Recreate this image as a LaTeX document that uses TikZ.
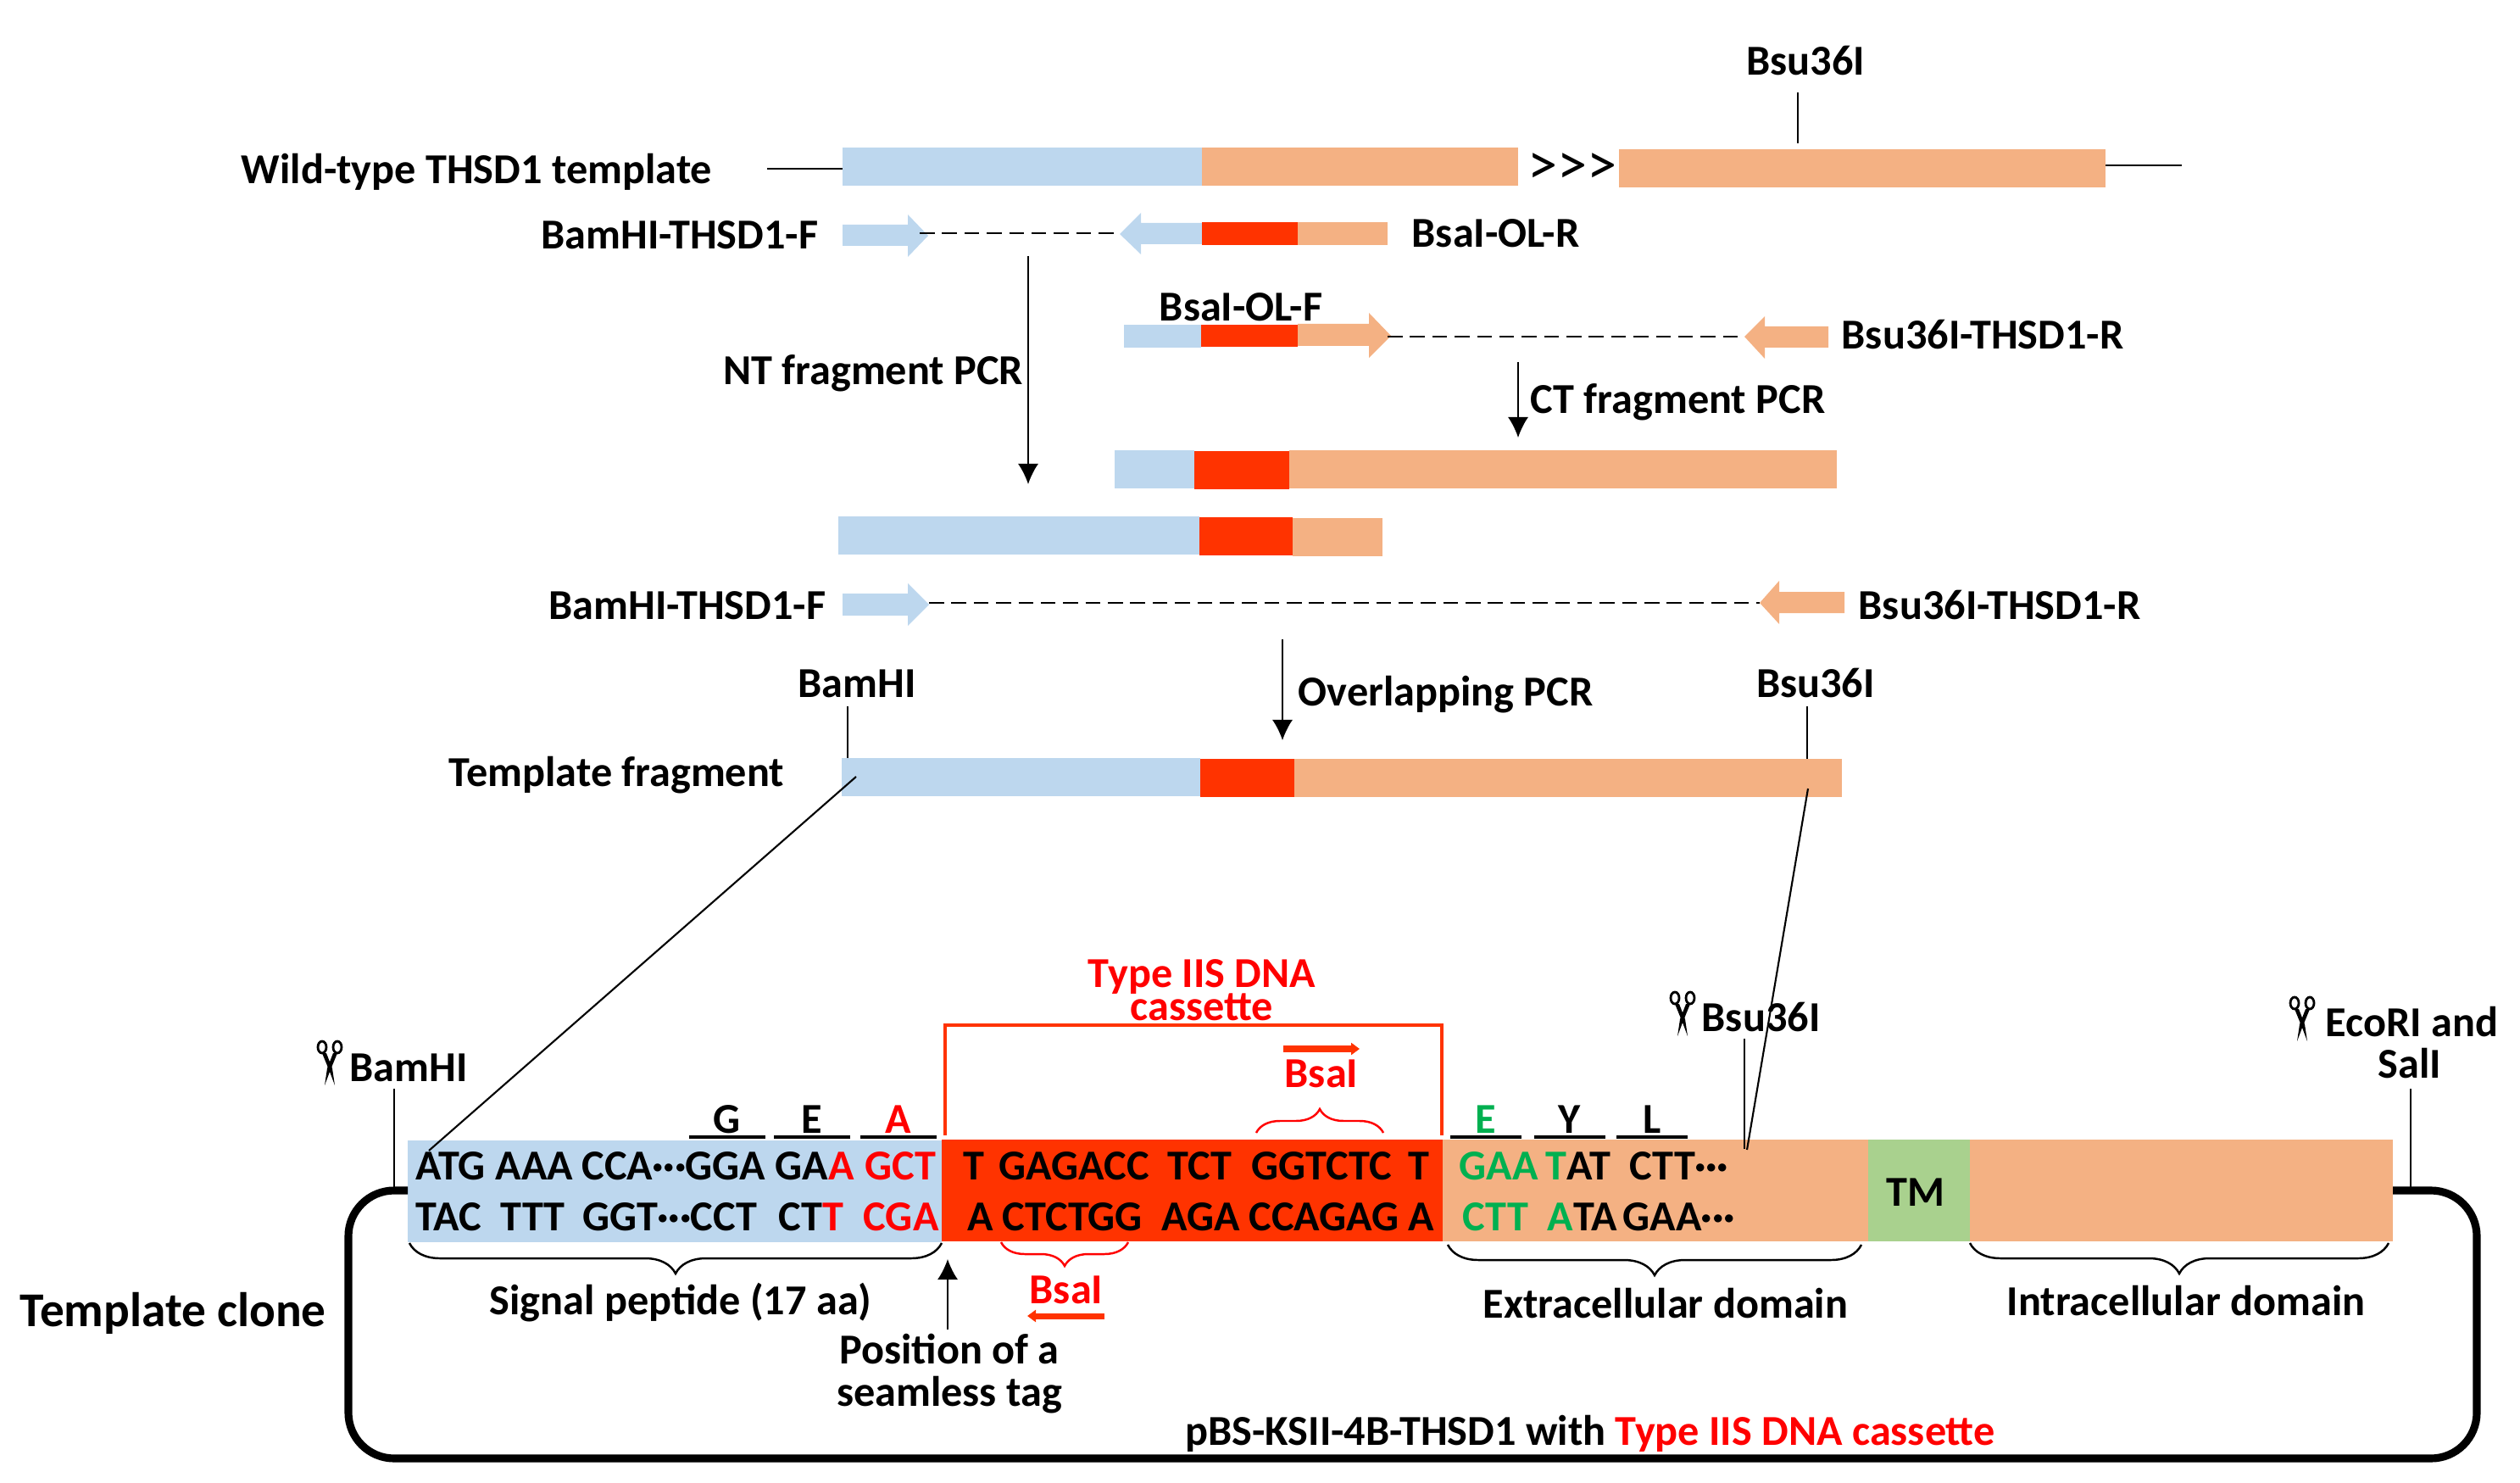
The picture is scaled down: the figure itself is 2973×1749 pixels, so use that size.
\documentclass[tikz,border=0pt]{standalone}
\usepackage{fontspec}
\setmainfont{Carlito}[BoldFont={Carlito Bold}]
\usetikzlibrary{arrows.meta, calc, decorations.pathreplacing}
\definecolor{cdsblue}{HTML}{BDD7EE}
\definecolor{cdsorange}{HTML}{F4B183}
\definecolor{cassred}{HTML}{FF3300}
\definecolor{tmgreen}{HTML}{A9D18E}
\definecolor{aagreen}{HTML}{00B050}
% a bar from its top left corner, size in reference pixels
\newcommand{\genebar}[6]{\node[barbox, fill=#1, minimum width=#4*0.01cm, minimum height=#5*0.01cm, anchor=north west] (#6) at (#2,#3) {};}
\newcommand{\middots}{\kern-0.02em ···\kern-0.02em}
\begin{document}
\begin{tikzpicture}[
    x=0.01cm, y=-0.01cm,
    barbox/.style={rectangle, draw=none, inner sep=0pt, outer sep=0pt},
    label/.style={font=\bfseries\fontsize{14.3}{16}\selectfont, inner sep=0pt, align=center},
    base/.style={font=\bfseries\fontsize{14.3}{16}\selectfont, inner sep=0pt, anchor=west},
    arrow/.style={-{Latex[length=0.24cm,width=0.24cm]}, line width=0.5pt},
    thin line/.style={line width=0.6pt},
    dash line/.style={line width=0.8pt, dash pattern=on 5pt off 2.5pt},
    sbrace/.style={decorate, decoration={brace, amplitude=0.36cm}, line width=0.7pt},
    cut/.pic={
        \draw[line width=0.8pt] (-9,-19) ellipse (5 and 7);
        \draw[line width=0.8pt] (9,-19) ellipse (5 and 7);
        \fill (-9,-12) -- (-4,-12) -- (3,6) -- (6,26) -- (0,10) -- cycle;
        \fill (9,-12) -- (4,-12) -- (-3,6) -- (-6,26) -- (0,10) -- cycle;
    }
]
\useasboundingbox (0,0) rectangle (2973,1749);

% ========== wild type template ==========
\node[label, anchor=west] (wtlabel) at (284,203) {Wild-type THSD1 template};
\genebar{cdsblue}{994}{174}{424}{45}{wtblue}
\genebar{cdsorange}{1418}{174}{373}{45}{wtorange}
\genebar{cdsorange}{1910}{176}{574}{45}{wttail}
\node[label, font=\fontsize{20}{22}\selectfont] (wtgap) at (1855,199) {>{}>{}>};
\coordinate (wtstart) at (905,199);
\coordinate (wtend) at (2574,195);
\draw[thin line] (wtstart) -- (wtblue.west |- wtstart);
\draw[thin line] (wttail.east |- wtend) -- (wtend);
\node[label] (wtsite) at (2130,72) {Bsu36I};
\coordinate (wtsitetop) at (2121,109);
\draw[thin line] (wtsitetop) -- (2121,169);

% ========== NT primers ==========
\node[label, anchor=east] (ntflabel) at (966,277) {BamHI-THSD1-F};
\fill[cdsblue] (994,265) -- (1071,265) -- (1071,253) -- (1095,278) -- (1071,303) -- (1071,290) -- (994,290) -- cycle;
\coordinate (ntfhead) at (1085,275);
\fill[cdsblue] (1418,263) -- (1346,263) -- (1346,251) -- (1321,276) -- (1346,300) -- (1346,288) -- (1418,288) -- cycle;
\coordinate (ntrhead) at (1321,275);
\draw[dash line] (ntfhead) -- (ntrhead);
\genebar{cassred}{1418}{262}{113}{27}{ntred}
\genebar{cdsorange}{1531}{262}{106}{27}{ntorange}
\node[label, anchor=west] (ntrlabel) at (1665,275) {BsaI-OL-R};

\node[label, anchor=east] (ntlabel) at (1208,440) {NT fragment PCR};
\coordinate (ntfrom) at (1213,302);
\coordinate (ntto) at (1213,571);
\draw[arrow] (ntfrom) -- (ntto);

% ========== CT primers ==========
\node[label] (ctflabel) at (1464,362) {BsaI-OL-F};
\genebar{cdsblue}{1326}{383}{91}{27}{ctblue}
\genebar{cassred}{1417}{383}{114}{26}{ctred}
\fill[cdsorange] (1531,382) -- (1615,382) -- (1615,369) -- (1641,396) -- (1615,422) -- (1615,408) -- (1531,408) -- cycle;
\coordinate (ctfhead) at (1637,397);
\fill[cdsorange] (2157,385) -- (2082,385) -- (2082,373) -- (2058,397) -- (2082,423) -- (2082,410) -- (2157,410) -- cycle;
\coordinate (ctrhead) at (2058,397);
\draw[dash line] (ctfhead) -- (ctrhead);
\node[label, anchor=west] (ctrlabel) at (2172,395) {Bsu36I-THSD1-R};

\coordinate (ctfrom) at (1791,427);
\coordinate (ctto) at (1791,516);
\draw[arrow] (ctfrom) -- (ctto);
\node[label, anchor=west] (ctlabel) at (1805,474) {CT fragment PCR};

% ========== PCR products ==========
\genebar{cdsblue}{1315}{531}{94}{45}{ctpblue}
\genebar{cassred}{1409}{532}{112}{45}{ctpred}
\genebar{cdsorange}{1521}{531}{646}{45}{ctporange}
\genebar{cdsblue}{989}{609}{426}{45}{ntpblue}
\genebar{cassred}{1415}{610}{110}{45}{ntpred}
\genebar{cdsorange}{1525}{611}{106}{45}{ntporange}

% ========== overlapping primers ==========
\node[label, anchor=east] (ovflabel) at (975,714) {BamHI-THSD1-F};
\fill[cdsblue] (994,700) -- (1071,700) -- (1071,688) -- (1096,713) -- (1071,738) -- (1071,726) -- (994,726) -- cycle;
\coordinate (ovfhead) at (1096,711);
\fill[cdsorange] (2176,698) -- (2099,698) -- (2099,685) -- (2076,711) -- (2099,736) -- (2099,723) -- (2176,723) -- cycle;
\coordinate (ovrhead) at (2076,711);
\draw[dash line] (ovfhead) -- (ovrhead);
\node[label, anchor=west] (ovrlabel) at (2192,714) {Bsu36I-THSD1-R};

\coordinate (ovfrom) at (1513,754);
\coordinate (ovto) at (1513,873);
\draw[arrow] (ovfrom) -- (ovto);
\node[label, anchor=west] (ovlabel) at (1531,819) {Overlapping PCR};

% ========== template fragment ==========
\node[label, anchor=west] (tflabel) at (529,914) {Template fragment};
\genebar{cdsblue}{993}{894}{423}{45}{tfblue}
\genebar{cassred}{1416}{895}{111}{45}{tfred}
\genebar{cdsorange}{1527}{895}{646}{45}{tforange}
\node[label] (tfbam) at (1011,806) {BamHI};
\node[label] (tfbsu) at (2142,806) {Bsu36I};
\coordinate (tfbamtop) at (1000,833);
\coordinate (tfbsutop) at (2132,833);
\draw[thin line] (tfbamtop) -- (tfbamtop |- tfblue.north);
\draw[thin line] (tfbsutop) -- (tfbsutop |- tforange.north);

% ========== template clone ==========
\node[label, anchor=west, font=\bfseries\fontsize{16.3}{19}\selectfont] (clonelabel) at (23,1549) {Template clone};
\genebar{cdsblue}{481}{1345}{630}{120}{sigbox}
\genebar{cassred}{1111}{1344}{591}{120}{casbox}
\genebar{cdsorange}{1702}{1344}{502}{120}{ecbox}
\genebar{tmgreen}{2204}{1344}{120}{120}{tmbox}
\genebar{cdsorange}{2324}{1344}{499}{120}{icbox}
\node[label] (tmlabel) at (2260,1406) {TM};

% vector backbone
\draw[line width=2.6pt, rounded corners=0.54cm] (sigbox.west |- 0,1404) -- (411,1404) -- (411,1720) -- (2922,1720) -- (2922,1404) -- (icbox.east |- 0,1404);
\node[label] (pbslabel) at (1876,1691) {pBS-KSII-4B-THSD1 with \textcolor{red}{Type IIS DNA cassette}};

% sites
\pic at (389,1254) {cut};
\node[label, anchor=west] (clbam) at (412,1259) {BamHI};
\pic at (1985,1196) {cut};
\node[label, anchor=west] (clbsu) at (2007,1200) {Bsu36I};
\pic at (2716,1202) {cut};
\node[label, anchor=west] (cleco) at (2743,1205) {EcoRI and};
\node[label] (clsal) at (2843,1254) {SalI};
\coordinate (sitea) at (465,1284);
\coordinate (siteb) at (2058,1225);
\coordinate (sitec) at (2844,1284);
\draw[thin line] (sitea) -- (465,1400);
\draw[thin line] (siteb) -- (2058,1355);
\draw[thin line] (sitec) -- (2844,1400);

% zoom lines from the fragment
\coordinate (zooma) at (1010,916);
\coordinate (zoomb) at (2133,930);
\draw[thin line] (zooma) -- (506,1357);
\draw[thin line] (zoomb) -- (2061,1356);

% cassette bracket
\draw[line width=1.3pt, cassred] (1115,1339) -- (1115,1209) -- (1701,1209) -- (1701,1339);
\node[label, red, align=center, font=\bfseries\fontsize{14.3}{15}\selectfont] (caslabel) at (1418,1168) {Type IIS DNA\\[-4pt]cassette};

% amino acids above the sequence
\foreach \aaname/\aa/\aacol/\xa/\xb in {
    aag/G/black/813/903, aae/E/black/913/1003, aaa/A/red/1015/1105,
    aaf/E/aagreen/1711/1795, aay/Y/black/1810/1894, aal/L/black/1907/1991} {
    \node[label, text=\aacol] (\aaname) at ({(\xa+\xb)/2},1320) {\aa};
    \coordinate (\aaname l) at (\xa,1341);
    \coordinate (\aaname r) at (\xb,1341);
    \draw[line width=0.9pt] (\aaname l) -- (\aaname r);
}

% sequence, upper strand
\node[base] (s1) at (490,1375) {ATG};
\node[base] (s2) at (584,1375) {AAA};
\node[base] (s3) at (686,1375) {CCA\middots GGA};
\node[base] (s4) at (914,1375) {GA\textcolor{red}{A}};
\node[base, red] (s5) at (1020,1375) {GCT};
\node[base] (s6) at (1136,1375) {T};
\node[base] (s7) at (1178,1375) {GAGACC};
\node[base] (s8) at (1377,1375) {TCT};
\node[base] (s9) at (1476,1375) {GGTCTC};
\node[base] (s10) at (1661,1375) {T};
\node[base] (s11) at (1721,1375) {\textcolor{aagreen}{GAA}};
\node[base] (s12) at (1823,1375) {\textcolor{aagreen}{T}AT};
\node[base] (s13) at (1922,1375) {CTT\middots};

% sequence, lower strand
\node[base] (t1) at (490,1435) {TAC};
\node[base] (t2) at (590,1435) {TTT};
\node[base] (t3) at (687,1435) {GGT\middots CCT};
\node[base] (t4) at (918,1435) {CT\textcolor{red}{T}};
\node[base, red] (t5) at (1018,1435) {CGA};
\node[base] (t6) at (1141,1435) {A};
\node[base] (t7) at (1182,1435) {CTCTGG};
\node[base] (t8) at (1370,1435) {AGA};
\node[base] (t9) at (1473,1435) {CCAGAG};
\node[base] (t10) at (1661,1435) {A};
\node[base] (t11) at (1725,1435) {\textcolor{aagreen}{CTT}};
\node[base] (t12) at (1825,1435) {\textcolor{aagreen}{A}TA};
\node[base] (t13) at (1914,1435) {GAA\middots};

% braces
\draw[sbrace] (1111,1466) -- (483,1466);
\draw[sbrace] (2196,1468) -- (1708,1468);
\draw[sbrace] (2818,1466) -- (2324,1466);
\draw[sbrace, red, decoration={amplitude=0.28cm}] (1331,1465) -- (1181,1465);
\draw[sbrace, red, decoration={amplitude=0.28cm}] (1482,1336) -- (1632,1336);

\node[label] (siglabel) at (803,1536) {Signal peptide (17 aa)};
\node[label] (eclabel) at (1965,1537) {Extracellular domain};
\node[label] (iclabel) at (2579,1534) {Intracellular domain};
\node[label] (seamlabel) at (1120,1620) {Position of a\\[-2pt]seamless tag};
\coordinate (seamfrom) at (1118,1568);
\coordinate (seamto) at (1118,1485);
\draw[arrow] (seamfrom) -- (seamto);

% BsaI sites
\node[label, red] (bsadown) at (1258,1521) {BsaI};
\coordinate (bsadowna) at (1303,1552);
\coordinate (bsadownb) at (1212,1552);
\draw[-{Triangle[length=0.1cm,width=0.14cm]}, line width=2pt, cassred] (bsadowna) -- (bsadownb);
\node[label, red] (bsaup) at (1559,1266) {BsaI};
\coordinate (bsaupa) at (1514,1237);
\coordinate (bsaupb) at (1604,1237);
\draw[-{Triangle[length=0.1cm,width=0.14cm]}, line width=2pt, cassred] (bsaupa) -- (bsaupb);
\end{tikzpicture}
\end{document}
